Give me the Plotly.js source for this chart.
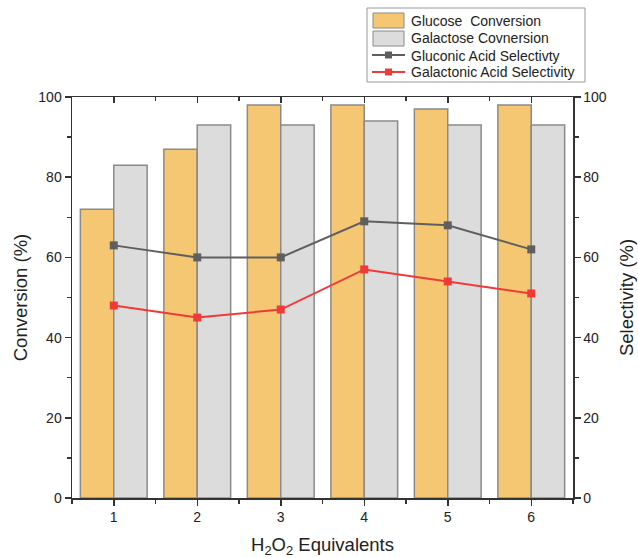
<!DOCTYPE html>
<html><head><meta charset="utf-8">
<script src="https://cdn.plot.ly/plotly-3.0.1.min.js"></script>
<style>body{margin:0;background:#fff}#chart{width:638px;height:558px}</style>
</head><body><div id="chart"></div>
<script>
var equivalents = [1, 2, 3, 4, 5, 6];
var glucoseConversion = [72, 87, 98, 98, 97, 98];
var galactoseConversion = [83, 93, 93, 94, 93, 93];
var gluconicSelectivity = [63, 60, 60, 69, 68, 62];
var galactonicSelectivity = [48, 45, 47, 57, 54, 51];
var seriesNames = ['Glucose  Conversion', 'Galactose Covnersion', 'Gluconic Acid Selectivty', 'Galactonic Acid Selectivity'];

var font = "Liberation Sans, Arial, sans-serif";
var orange = '#F5C772', grey = '#DCDCDC', edge = '#8a8a8a', dark = '#5f5f5f', red = '#F03A3A';
var traces = [
  {type:'bar', name:seriesNames[0], x:equivalents, y:glucoseConversion,
   marker:{color:orange, line:{color:edge, width:1.5}}, offsetgroup:'a'},
  {type:'bar', name:seriesNames[1], x:equivalents, y:galactoseConversion,
   marker:{color:grey, line:{color:edge, width:1.5}}, offsetgroup:'b'},
  {type:'scatter', mode:'lines+markers', name:seriesNames[2], x:equivalents, y:gluconicSelectivity,
   yaxis:'y2', line:{color:dark, width:2}, marker:{symbol:'square', size:8, color:dark}},
  {type:'scatter', mode:'lines+markers', name:seriesNames[3], x:equivalents, y:galactonicSelectivity,
   yaxis:'y2', line:{color:red, width:2}, marker:{symbol:'square', size:8, color:red}},
  {type:'scatter', mode:'none', x:equivalents, y:galactonicSelectivity, xaxis:'x2', yaxis:'y2',
   showlegend:false, hoverinfo:'skip'}
];

// layout geometry (pixels) and helpers to convert into paper coordinates
var W = 638, H = 558, M = {l:72, r:65, t:97, b:60};
var PW = W - M.l - M.r, PH = H - M.t - M.b;
function px(x){ return (x - M.l) / PW; }
function py(y){ return (H - M.b - y) / PH; }

// custom legend
var shapes = [
  {type:'rect', xref:'paper', yref:'paper', x0:px(367), x1:px(585), y0:py(82), y1:py(8),
   line:{color:'#999', width:1}, fillcolor:'#fff', layer:'above'},
  {type:'rect', xref:'paper', yref:'paper', x0:px(373), x1:px(404), y0:py(28), y1:py(13),
   line:{color:edge, width:1}, fillcolor:orange, layer:'above'},
  {type:'rect', xref:'paper', yref:'paper', x0:px(373), x1:px(404), y0:py(46), y1:py(31),
   line:{color:edge, width:1}, fillcolor:grey, layer:'above'},
  {type:'line', xref:'paper', yref:'paper', x0:px(372), x1:px(405), y0:py(55), y1:py(55),
   line:{color:dark, width:2}, layer:'above'},
  {type:'rect', xref:'paper', yref:'paper', x0:px(385), x1:px(392), y0:py(58.5), y1:py(51.5),
   line:{color:dark, width:0}, fillcolor:dark, layer:'above'},
  {type:'line', xref:'paper', yref:'paper', x0:px(372), x1:px(405), y0:py(72), y1:py(72),
   line:{color:red, width:2}, layer:'above'},
  {type:'rect', xref:'paper', yref:'paper', x0:px(385), x1:px(392), y0:py(75.5), y1:py(68.5),
   line:{color:red, width:0}, fillcolor:red, layer:'above'}
];
var legendY = [20.5, 38.5, 55.5, 72.5];
var annotations = seriesNames.map(function(n, i){
  return {xref:'paper', yref:'paper', x:px(409), y:py(legendY[i]), xanchor:'left', yanchor:'middle',
          text:n, showarrow:false, font:{family:font, size:14, color:'#222'}};
});

var axcol = '#333';
var layout = {
  width:W, height:H,
  margin:M,
  paper_bgcolor:'#fff', plot_bgcolor:'#fff',
  font:{family:font, size:14, color:'#222'},
  barmode:'group', bargap:0.2, bargroupgap:0,
  showlegend:false,
  shapes:shapes, annotations:annotations,
  xaxis:{range:[0.5,6.5], tickvals:equivalents, ticks:'outside', ticklen:6, tickwidth:1.5, tickcolor:axcol,
         showline:true, linecolor:axcol, linewidth:1.5, showgrid:false, zeroline:false,
         minor:{dtick:0.5, tick0:0.5, ticks:'outside', ticklen:4, tickwidth:1.5, tickcolor:axcol},
         title:{text:'H<sub>2</sub>O<sub>2</sub> Equivalents', font:{size:18.5, family:font}, standoff:15}},
  xaxis2:{overlaying:'x', side:'top', range:[0.5,6.5], tickvals:equivalents, showticklabels:false,
          ticks:'inside', ticklen:6, tickwidth:1.5, tickcolor:axcol, showline:true, linecolor:axcol, linewidth:1.5,
          showgrid:false, zeroline:false,
          minor:{dtick:0.5, tick0:0.5, ticks:'inside', ticklen:4, tickwidth:1.5, tickcolor:axcol}},
  yaxis:{range:[0,100], dtick:20, ticks:'outside', ticklen:6, tickwidth:1.5, tickcolor:axcol,
         showline:true, linecolor:axcol, linewidth:1.5, showgrid:false, zeroline:false,
         minor:{dtick:10, ticks:'outside', ticklen:4, tickwidth:1.5, tickcolor:axcol},
         title:{text:'Conversion (%)', font:{size:18.5, family:font}, standoff:6}},
  yaxis2:{overlaying:'y', side:'right', range:[0,100], dtick:20, ticks:'outside', ticklen:6, tickwidth:1.5, tickcolor:axcol,
          showline:true, linecolor:axcol, linewidth:1.5, showgrid:false, zeroline:false,
          minor:{dtick:10, ticks:'outside', ticklen:4, tickwidth:1.5, tickcolor:axcol},
          title:{text:'Selectivity (%)', font:{size:18.5, family:font}, standoff:14}}
};
Plotly.newPlot('chart', traces, layout, {displayModeBar:false, staticPlot:true});
</script></body></html>
